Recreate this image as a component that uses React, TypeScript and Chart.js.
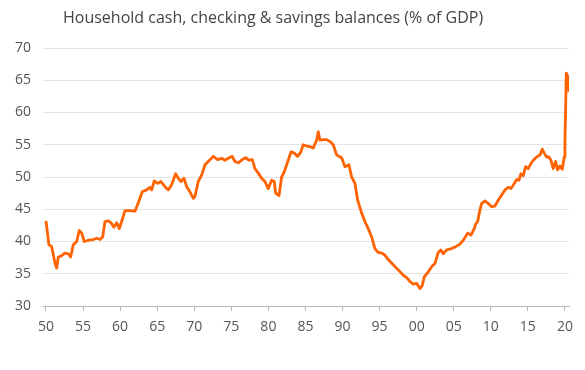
import React, { useEffect, useRef } from "react";
import { Chart, registerables } from "chart.js";

Chart.register(...registerables);

const chartTitle = "Household cash, checking & savings balances (% of GDP)";

const years = [
  1950.0, 1950.4, 1950.77, 1951.21, 1951.44, 1951.66, 1952.12, 1952.56, 1953.01, 1953.33,
  1953.68, 1954.14, 1954.49, 1954.82, 1955.17, 1955.71, 1956.38, 1956.84, 1957.28, 1957.65,
  1957.96, 1958.4, 1958.77, 1959.17, 1959.54, 1959.89, 1960.21, 1960.66, 1961.33, 1962.01,
  1962.45, 1962.99, 1963.58, 1964.03, 1964.26, 1964.61, 1965.07, 1965.51, 1966.05, 1966.5,
  1966.95, 1967.49, 1967.84, 1968.21, 1968.61, 1968.98, 1969.42, 1969.87, 1970.1, 1970.54,
  1971.0, 1971.45, 1971.89, 1972.57, 1973.16, 1973.7, 1974.14, 1974.59, 1975.13, 1975.49,
  1975.94, 1976.48, 1976.94, 1977.38, 1977.83, 1978.19, 1978.64, 1979.09, 1979.54, 1979.98,
  1980.44, 1980.79, 1980.98, 1981.43, 1981.79, 1982.14, 1982.68, 1983.05, 1983.49, 1983.95,
  1984.39, 1984.7, 1985.16, 1985.61, 1986.05, 1986.51, 1986.73, 1986.96, 1987.4, 1987.86,
  1988.31, 1988.75, 1989.21, 1989.88, 1990.33, 1990.87, 1991.23, 1991.68, 1992.04, 1992.58,
  1993.02, 1993.47, 1993.93, 1994.37, 1994.82, 1995.28, 1995.72, 1996.17, 1996.84, 1997.52,
  1998.19, 1998.65, 1999.1, 1999.54, 2000.0, 2000.45, 2000.76, 2001.03, 2001.57, 2002.1,
  2002.47, 2002.91, 2003.28, 2003.59, 2004.05, 2004.72, 2005.26, 2005.84, 2006.29, 2006.88,
  2007.33, 2007.77, 2007.96, 2008.23, 2008.54, 2008.77, 2009.21, 2009.66, 2010.12, 2010.56,
  2011.01, 2011.47, 2011.91, 2012.36, 2012.72, 2013.17, 2013.49, 2013.8, 2014.07, 2014.38,
  2014.7, 2015.05, 2015.42, 2015.73, 2016.19, 2016.63, 2016.94, 2017.21, 2017.53, 2017.84,
  2018.11, 2018.42, 2018.75, 2019.01, 2019.33, 2019.64, 2019.91, 2020.0, 2020.1, 2020.18,
  2020.37, 2020.55,
];

const balances = [
  43.2, 39.5, 39.2, 36.7, 35.9, 37.6, 37.8, 38.2, 38.1, 37.6,
  39.5, 40.0, 41.7, 41.3, 40.0, 40.2, 40.3, 40.5, 40.3, 40.7,
  43.1, 43.2, 42.9, 42.2, 42.9, 42.0, 43.1, 44.8, 44.8, 44.7,
  46.0, 47.7, 48.0, 48.4, 48.0, 49.4, 49.0, 49.3, 48.5, 48.0,
  48.8, 50.5, 49.8, 49.3, 49.8, 48.5, 47.7, 46.7, 47.0, 49.3,
  50.3, 51.9, 52.4, 53.2, 52.7, 52.9, 52.6, 52.9, 53.2, 52.4,
  52.2, 52.7, 53.0, 52.6, 52.7, 51.3, 50.6, 49.8, 49.3, 48.2,
  49.5, 49.3, 47.5, 47.1, 50.0, 50.8, 52.6, 53.9, 53.7, 53.2,
  53.9, 55.0, 54.8, 54.7, 54.5, 55.7, 57.0, 55.7, 55.8, 55.8,
  55.5, 55.0, 53.4, 53.0, 51.6, 51.9, 50.0, 49.0, 46.4, 44.4,
  43.1, 42.0, 40.7, 38.9, 38.3, 38.2, 37.9, 37.2, 36.4, 35.6,
  34.8, 34.4, 33.8, 33.4, 33.5, 32.7, 33.2, 34.5, 35.3, 36.2,
  36.6, 38.3, 38.7, 38.1, 38.7, 38.9, 39.2, 39.6, 40.2, 41.3,
  41.0, 42.0, 42.7, 43.1, 44.9, 45.9, 46.3, 45.9, 45.4, 45.5,
  46.4, 47.2, 48.0, 48.4, 48.2, 49.0, 49.6, 49.5, 50.5, 50.2,
  51.6, 51.3, 52.1, 52.6, 53.1, 53.4, 54.3, 53.7, 53.1, 53.1,
  52.6, 51.3, 52.4, 51.1, 51.7, 51.2, 53.1, 55.2, 60.9, 66.1,
  65.6, 63.2,
];

const yTickValues = [30, 35, 40, 45, 50, 55, 60, 65, 70];
const xTickValues = [1950, 1955, 1960, 1965, 1970, 1975, 1980, 1985, 1990, 1995, 2000, 2005, 2010, 2015, 2020];

const FONT = "'Open Sans', 'Noto Sans', sans-serif";

export default function App() {
  const ref = useRef<HTMLCanvasElement>(null);

  useEffect(() => {
    if (!ref.current) return;
    const tickFont = { family: FONT, size: 14 };
    const chart = new Chart(ref.current, {
      type: "line",
      data: {
        datasets: [
          {
            data: years.map((x, i) => ({ x, y: balances[i] })),
            borderColor: "#FF6200",
            borderWidth: 2.8,
            pointRadius: 0,
            tension: 0,
            fill: false,
            borderJoinStyle: "round",
          },
        ],
      },
      options: {
        animation: false,
        responsive: false,
        maintainAspectRatio: false,
        layout: { padding: { top: 48, left: 0, right: 16, bottom: 0 } },
        plugins: {
          legend: { display: false },
          tooltip: { enabled: false },
          title: { display: false },
        },
        scales: {
          x: {
            type: "linear",
            min: 1949.6,
            max: 2020.55,
            afterBuildTicks: (s: any) => {
              s.ticks = xTickValues.map((v) => ({ value: v }));
            },
            afterFit: (s: any) => {
              s.height = 64;
            },
            ticks: {
              autoSkip: false,
              maxRotation: 0,
              padding: 8,
              color: "#555",
              font: tickFont,
              callback: (v: any) => String(Number(v) % 100).padStart(2, "0"),
            },
            grid: {
              drawOnChartArea: false,
              drawTicks: true,
              tickLength: 5,
              color: "#b8b8b8",
            },
            border: { display: true, color: "#b8b8b8", width: 1 },
          },
          y: {
            type: "linear",
            min: 30,
            max: 70,
            afterBuildTicks: (s: any) => {
              s.ticks = yTickValues.map((v) => ({ value: v }));
            },
            afterFit: (s: any) => {
              s.width = 43;
            },
            ticks: {
              padding: 12,
              color: "#555",
              font: tickFont,
            },
            grid: {
              drawTicks: false,
              color: (ctx: any) => (ctx.tick && ctx.tick.value === 30 ? "rgba(0,0,0,0)" : "#e4e4e4"),
              lineWidth: 1,
            },
            border: { display: false },
          },
        },
      },
    });
    return () => chart.destroy();
  }, []);

  return (
    <div style={{ position: "fixed", left: 0, top: 0, width: 585, height: 370, background: "#fff" }}>
      <div
        style={{
          position: "absolute",
          left: 63,
          top: 6,
          fontFamily: FONT,
          fontSize: 16,
          lineHeight: "22px",
          color: "#444",
          whiteSpace: "nowrap",
        }}
      >
        {chartTitle}
      </div>
      <canvas ref={ref} width={585} height={370} style={{ display: "block", width: 585, height: 370 }} />
    </div>
  );
}
